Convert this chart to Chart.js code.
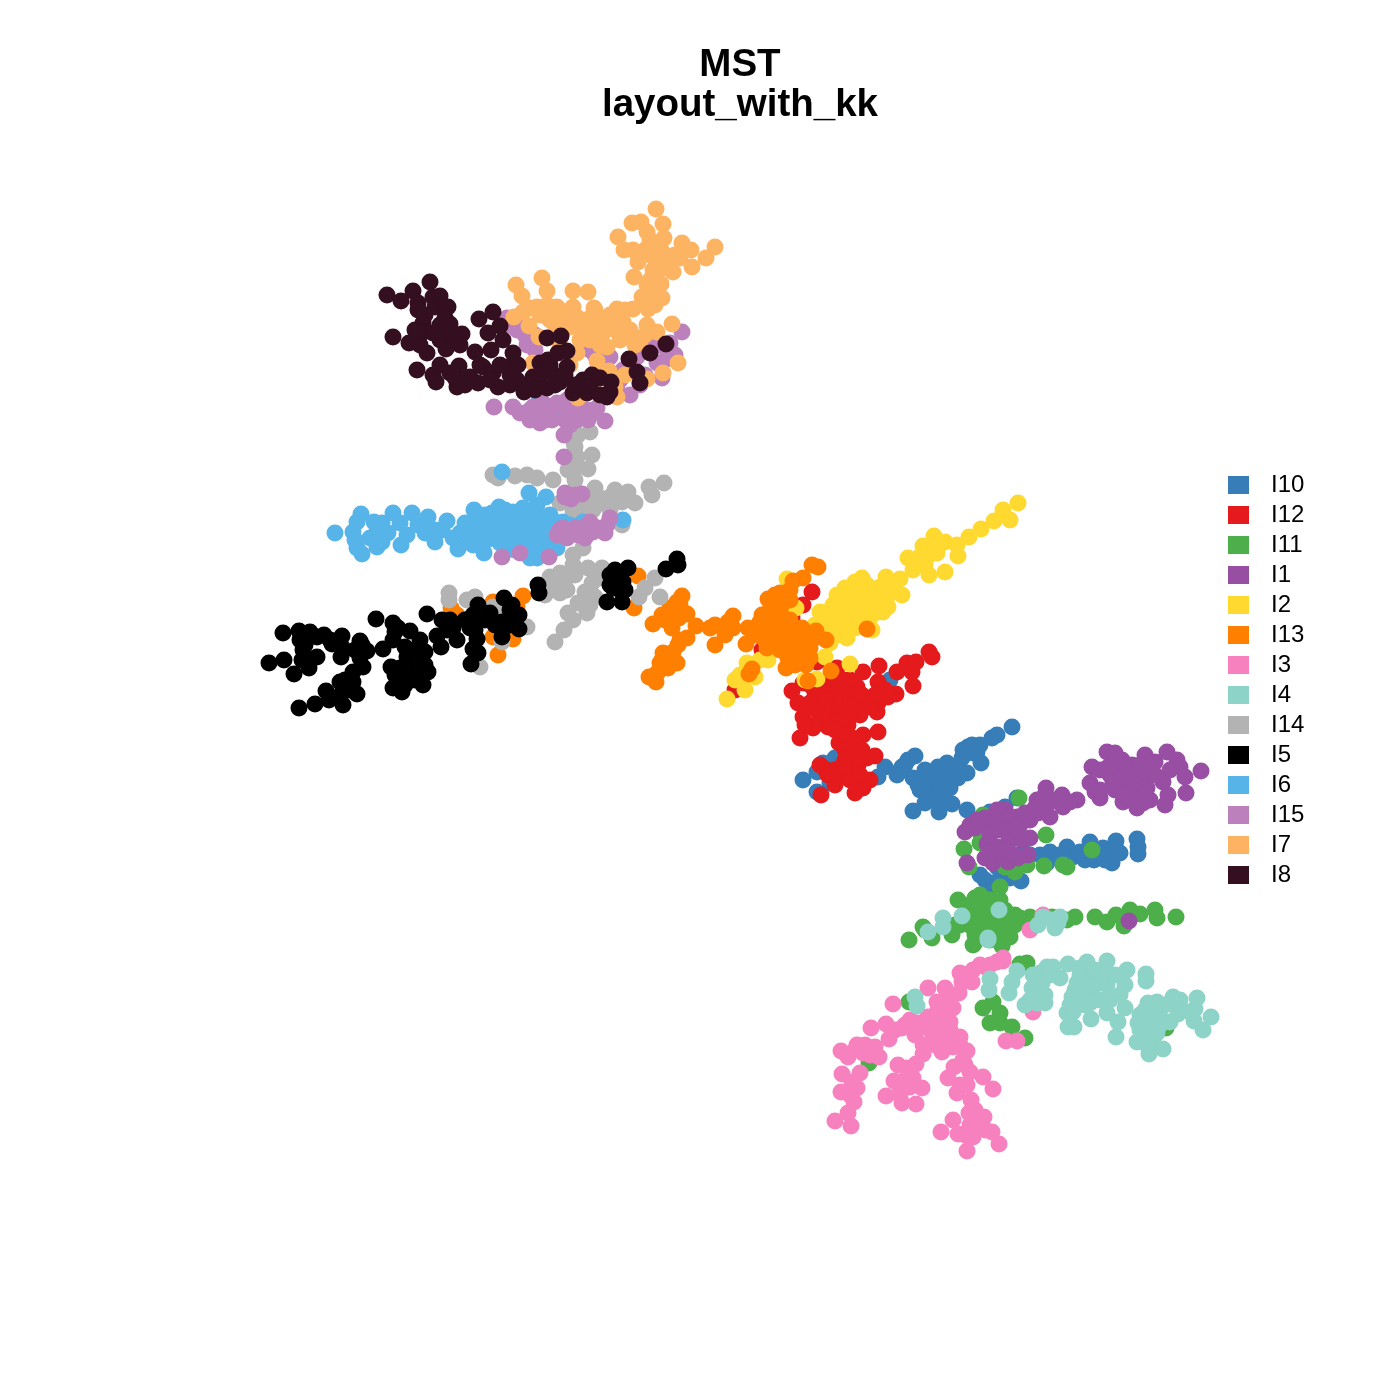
<!DOCTYPE html>
<html>
<head>
<meta charset="utf-8">
<title>MST layout_with_kk</title>
<script src="https://cdn.jsdelivr.net/npm/chart.js@4/dist/chart.umd.min.js"></script>
<style>
body { margin: 0; background: #fff; }
canvas { display: block; }
</style>
</head>
<body>
<canvas id="mst" width="1400" height="1400"></canvas>
<script>
// values, x runs right and y runs down
var I10 = [[1012,727],[997,735],[992,738],[980,745],[968,747],[963,750],[973,753],[962,758],[981,763],[947,763],[938,767],[967,773],[958,778],[930,778],[945,780],[913,778],[920,790],[933,790],[950,788],[940,798],[925,803],[952,804],[913,811],[939,812],[967,810],[915,756],[908,760],[902,767],[897,775],[803,780],[835,758],[823,763],[817,772],[817,792],[830,783],[885,767],[878,777],[897,773],[890,680],[1017,798],[1005,807],[990,812],[980,875],[993,883],[1005,877],[1021,881],[992,887],[997,867],[1040,855],[1053,855],[1067,847],[1073,857],[1047,863],[1090,842],[1094,860],[1103,848],[1112,863],[1116,841],[1120,853],[1137,839],[1138,847],[1138,854],[1080,852],[1023,852],[925,770],[935,775],[945,772],[955,768],[925,785],[935,785],[945,790],[930,795],[940,790],[920,780],[918,785],[935,800],[905,765],[955,770],[972,745],[977,752],[1050,852],[1060,855],[1085,860],[1100,855],[1105,860],[1110,852],[1030,855],[1010,855],[1000,870],[1010,878],[985,880]];
var I12 = [[812,592],[803,605],[792,618],[795,637],[762,650],[735,690],[817,662],[837,668],[863,672],[879,666],[878,682],[897,672],[907,663],[916,662],[929,652],[932,657],[912,672],[913,686],[896,694],[888,697],[878,703],[877,712],[803,683],[792,691],[798,703],[803,717],[815,693],[828,682],[843,680],[857,687],[847,697],[830,707],[817,710],[840,703],[860,707],[870,707],[847,720],[860,715],[828,727],[813,728],[800,738],[848,725],[863,735],[878,732],[852,738],[839,743],[852,752],[875,756],[867,758],[858,765],[820,765],[825,769],[845,773],[837,778],[835,785],[850,780],[870,780],[863,788],[855,793],[821,795],[810,685],[820,690],[830,692],[838,690],[850,680],[845,690],[855,695],[835,700],[825,700],[810,703],[805,710],[820,718],[830,718],[840,712],[850,712],[838,722],[855,705],[865,700],[875,695],[885,690],[862,695],[815,725],[805,725],[835,730],[855,745],[845,750],[848,735],[862,750],[845,760],[835,770],[843,765],[860,775],[828,775]];
var I11 = [[909,940],[923,927],[932,938],[952,935],[958,900],[975,898],[1000,887],[985,907],[975,913],[990,917],[972,927],[983,923],[1000,920],[1015,915],[1010,937],[998,930],[974,944],[1002,946],[1030,917],[1052,917],[1067,920],[1075,917],[1095,917],[1107,922],[1116,915],[1130,910],[1140,914],[1124,926],[1155,910],[1157,918],[1176,917],[963,923],[1019,798],[1046,835],[964,849],[983,815],[980,843],[969,867],[1092,850],[1044,866],[1063,865],[1067,867],[1015,872],[1027,865],[1005,867],[980,833],[983,1008],[993,1002],[1000,1013],[990,1023],[1000,1023],[1012,1027],[1025,1038],[1020,964],[1027,963],[909,1002],[869,1063],[1166,1028],[973,945],[1002,945],[980,895],[990,900],[995,907],[970,905],[985,915],[965,915],[995,925],[985,930],[1005,930],[1000,900],[1005,910],[990,940],[975,935],[960,925],[955,925],[1015,925],[1020,918],[925,930],[945,925],[1035,920]];
var I1 = [[1129,921],[967,863],[965,832],[970,825],[977,820],[997,810],[1005,810],[990,825],[1003,823],[1017,817],[1030,820],[1010,833],[1030,838],[1022,840],[1008,843],[987,844],[997,847],[985,858],[993,863],[1008,862],[1018,858],[1028,855],[1002,857],[1037,800],[1046,788],[1050,802],[1062,795],[1063,807],[1077,800],[1050,817],[1038,813],[1107,752],[1115,753],[1122,760],[1092,767],[1107,768],[1132,765],[1145,755],[1155,762],[1167,752],[1177,760],[1180,767],[1185,777],[1201,771],[1186,793],[1090,783],[1095,792],[1100,798],[1113,782],[1123,802],[1123,787],[1138,778],[1138,793],[1147,788],[1137,808],[1150,800],[1163,782],[1168,795],[1165,805],[1148,773],[1133,772],[985,818],[995,818],[1010,818],[1020,825],[1000,830],[1015,828],[990,835],[975,828],[1025,813],[1035,808],[1045,795],[1045,807],[1055,800],[1070,802],[990,852],[1005,850],[1015,855],[1110,775],[1120,770],[1125,778],[1115,790],[1130,790],[1125,795],[1135,785],[1145,795],[1130,800],[1143,803],[1100,770],[1155,775],[1170,770],[1140,765],[1100,790],[1118,760]];
var I2 = [[1018,503],[1003,510],[1010,520],[994,521],[981,529],[969,537],[958,556],[957,545],[945,542],[934,536],[923,546],[937,553],[908,558],[927,557],[913,570],[929,575],[945,572],[900,579],[886,577],[902,595],[855,582],[867,585],[880,587],[837,595],[853,595],[870,597],[887,597],[833,605],[850,607],[867,607],[888,607],[883,612],[820,612],[837,617],[853,618],[870,618],[815,625],[830,630],[847,630],[847,638],[872,630],[830,643],[825,657],[850,664],[796,608],[787,579],[817,679],[805,680],[747,663],[755,677],[768,660],[760,660],[735,680],[745,690],[727,699],[845,588],[860,590],[875,592],[843,603],[858,603],[875,605],[828,612],[843,612],[860,612],[878,612],[825,620],[840,625],[855,628],[865,625],[838,635],[822,637],[890,590],[862,578],[752,665],[770,650],[775,645],[740,675],[935,545],[925,565],[918,558]];
var I13 = [[523,596],[451,608],[457,615],[493,602],[517,607],[493,637],[513,639],[498,655],[638,576],[634,608],[507,620],[682,596],[677,602],[670,608],[662,615],[653,624],[687,614],[679,618],[672,628],[696,626],[710,628],[715,625],[715,645],[725,635],[733,616],[728,622],[733,628],[687,638],[678,645],[663,653],[670,655],[660,663],[677,663],[668,668],[649,677],[656,682],[653,677],[812,565],[818,567],[803,578],[793,581],[790,590],[780,593],[768,599],[783,603],[773,607],[762,615],[773,617],[787,627],[748,628],[763,630],[777,633],[746,644],[767,648],[788,640],[802,628],[816,631],[826,640],[803,640],[810,648],[797,653],[788,658],[806,665],[786,668],[831,671],[808,681],[867,629],[752,669],[749,674],[655,675],[662,660],[668,660],[673,652],[680,640],[665,665],[658,672],[665,620],[675,612],[680,605],[770,610],[780,610],[790,600],[775,595],[760,622],[770,625],[780,622],[790,620],[795,632],[785,635],[775,640],[765,640],[755,635],[800,650],[795,645],[790,648],[810,658],[800,660],[780,650],[795,665],[812,640]];
var I3 = [[1003,961],[997,962],[987,968],[973,970],[960,973],[962,982],[972,982],[959,993],[945,988],[928,988],[937,1002],[953,1008],[893,1004],[910,1020],[928,1017],[918,1023],[902,1028],[886,1024],[871,1028],[889,1039],[940,1020],[950,1022],[940,1035],[960,1037],[933,1040],[923,1045],[942,1052],[953,1047],[967,1051],[923,1054],[916,1064],[898,1065],[907,1068],[963,1060],[954,1067],[948,1078],[970,1072],[983,1077],[967,1085],[993,1089],[957,1093],[971,1100],[969,1113],[984,1117],[953,1120],[973,1125],[941,1132],[958,1134],[973,1137],[992,1132],[999,1144],[967,1151],[913,1078],[894,1081],[900,1087],[922,1088],[886,1096],[902,1103],[916,1104],[910,1087],[857,1045],[865,1045],[875,1047],[863,1053],[879,1057],[841,1051],[848,1057],[842,1074],[860,1073],[852,1082],[857,1088],[841,1092],[854,1102],[848,1113],[835,1121],[851,1126],[1006,1041],[1017,1041],[1033,1012],[1043,915],[1030,930],[1003,958],[950,1000],[965,975],[980,965],[990,965],[945,1010],[935,1015],[945,1025],[930,1030],[950,1030],[945,1042],[935,1045],[955,1040],[925,1025],[895,1030],[960,1045],[915,1035],[905,1025],[938,1010],[965,1065],[975,1110],[970,1125],[965,1135],[905,1080],[900,1095],[855,1050],[870,1055],[850,1095],[960,1085],[985,1130]];
var I4 = [[990,979],[989,990],[1017,971],[1012,982],[1009,993],[1047,967],[1053,967],[1068,964],[1087,962],[1107,961],[1127,970],[1146,974],[1146,981],[1040,973],[1060,978],[1032,988],[1040,992],[1025,1005],[1037,1003],[1045,1003],[1080,968],[1077,983],[1087,978],[1105,973],[1107,985],[1125,985],[1072,997],[1092,995],[1110,1000],[1090,1003],[1067,1013],[1073,1012],[1091,1019],[1107,1013],[1125,1008],[1118,1022],[1068,1027],[1074,1027],[1116,1037],[1148,1003],[1157,1002],[1173,997],[1180,1000],[1197,998],[1195,1009],[1178,1014],[1211,1017],[1194,1021],[1203,1030],[1170,1022],[1140,1015],[1138,1023],[1153,1018],[1145,1030],[1157,1033],[1137,1042],[1153,1042],[1163,1049],[1149,1054],[1153,1010],[915,997],[917,1006],[988,940],[928,932],[943,918],[943,927],[962,916],[999,910],[988,938],[1060,917],[1058,923],[1055,928],[1043,917],[1038,925],[1042,983],[1050,975],[1035,985],[1045,995],[1030,1000],[1080,975],[1095,970],[1100,980],[1115,975],[1095,985],[1082,990],[1075,990],[1070,1005],[1100,1000],[1085,1005],[1145,1010],[1150,1022],[1140,1030],[1160,1010],[1165,1005],[1150,1035],[1147,1045],[1160,1025],[1190,1012],[1175,1005],[1033,975],[1120,995],[1052,920]];
var I14 = [[590,432],[578,435],[574,443],[575,447],[592,455],[577,457],[588,469],[573,472],[493,475],[498,478],[515,476],[527,475],[537,478],[553,480],[575,480],[595,488],[610,497],[628,492],[635,503],[652,495],[649,487],[664,483],[622,502],[607,505],[593,510],[573,512],[560,503],[622,525],[583,548],[573,555],[573,565],[588,568],[602,568],[550,577],[560,573],[567,590],[550,590],[560,593],[592,583],[585,592],[595,597],[578,603],[587,613],[568,613],[564,630],[555,642],[655,578],[645,588],[639,597],[660,597],[449,593],[449,600],[467,600],[475,597],[480,667],[527,627],[502,642],[493,607],[505,613],[575,490],[600,498],[615,490],[625,498],[585,500],[595,505],[610,510],[575,505],[580,515],[568,470],[575,460],[570,435],[575,575],[565,580],[555,585],[573,620],[590,605],[600,578],[545,595]];
var I5 = [[269,663],[284,660],[294,674],[283,633],[299,631],[300,640],[303,650],[302,660],[309,668],[317,657],[317,637],[324,635],[332,644],[342,636],[341,657],[342,647],[360,641],[367,651],[360,658],[363,667],[353,672],[340,682],[353,682],[326,691],[329,700],[342,693],[357,694],[343,705],[315,704],[299,708],[376,619],[393,623],[398,628],[393,640],[383,649],[405,647],[407,657],[410,631],[420,640],[425,652],[420,665],[428,672],[391,667],[400,668],[408,678],[393,688],[402,692],[423,685],[427,614],[442,620],[453,628],[437,636],[457,640],[441,647],[478,605],[490,613],[473,615],[470,628],[477,639],[473,649],[478,653],[471,664],[504,598],[512,605],[519,615],[502,622],[519,629],[502,637],[538,585],[539,593],[628,568],[610,575],[623,582],[613,588],[607,602],[622,602],[677,559],[678,565],[666,569],[620,590],[310,632],[305,645],[355,650],[362,645],[330,640],[350,690],[345,680],[395,632],[415,650],[395,675],[415,680],[425,665],[405,685],[415,670],[447,630],[450,620],[465,620],[485,620],[495,625],[510,610],[510,625],[610,585],[620,575],[615,570],[625,590],[475,630]];
var I6 = [[502,472],[529,493],[546,497],[335,533],[361,514],[357,522],[353,532],[355,540],[357,548],[362,554],[374,522],[382,523],[377,532],[370,538],[382,542],[377,547],[388,533],[393,513],[400,523],[412,513],[407,535],[401,545],[428,517],[447,521],[425,533],[435,542],[442,530],[453,538],[465,523],[474,510],[458,549],[473,545],[484,553],[492,513],[499,507],[483,523],[477,535],[493,530],[503,520],[513,512],[523,508],[537,505],[550,515],[520,527],[533,523],[543,533],[500,543],[513,540],[527,543],[540,547],[530,558],[537,558],[557,548],[563,522],[583,522],[623,520],[487,540],[510,522],[543,520],[507,550],[523,552],[539,401],[552,414],[465,530],[475,522],[470,540],[485,515],[495,522],[505,510],[515,520],[525,515],[535,515],[545,525],[555,530],[490,535],[500,530],[510,535],[520,535],[530,535],[540,540],[550,540],[505,545],[515,550],[525,550],[535,550],[545,552],[555,522],[480,530],[460,533],[488,525],[570,525],[578,530],[435,530],[418,525]];
var I15 = [[507,318],[517,330],[527,345],[590,350],[610,357],[623,370],[617,390],[640,385],[662,378],[682,332],[670,343],[675,355],[653,342],[657,363],[637,357],[597,370],[494,407],[513,407],[520,413],[533,407],[543,403],[540,423],[552,420],[564,435],[563,407],[577,410],[577,420],[587,410],[597,408],[605,421],[588,420],[557,403],[567,400],[564,457],[565,493],[571,499],[582,494],[557,535],[563,528],[570,533],[575,528],[585,527],[585,538],[593,532],[607,525],[605,533],[502,557],[520,553],[549,557],[535,335],[525,335],[520,320],[510,325],[535,350],[595,355],[605,365],[630,365],[645,375],[660,345],[665,360],[620,380],[630,395],[530,410],[540,410],[550,410],[570,405],[590,415],[545,420],[565,420],[580,415],[530,420],[570,425],[560,530],[578,535],[598,528],[590,522],[567,538],[610,518],[575,495],[565,497]];
var I7 = [[656,209],[632,223],[641,222],[663,224],[647,232],[618,237],[664,238],[624,250],[633,250],[652,245],[682,243],[691,250],[715,247],[706,258],[692,267],[673,272],[638,262],[653,257],[663,253],[675,255],[653,270],[663,268],[634,277],[647,285],[661,284],[642,297],[662,298],[633,309],[648,309],[617,309],[516,285],[542,278],[547,291],[522,296],[573,291],[588,292],[514,317],[529,326],[523,312],[537,307],[547,305],[557,307],[573,307],[594,308],[547,317],[567,318],[578,318],[583,330],[570,327],[607,325],[623,322],[602,335],[607,347],[627,337],[640,342],[647,325],[657,332],[672,324],[539,337],[577,353],[597,361],[609,371],[663,373],[678,363],[533,363],[560,347],[615,387],[617,397],[647,379],[578,398],[650,240],[660,245],[645,250],[670,258],[680,258],[660,262],[650,280],[655,290],[645,300],[655,305],[625,310],[560,310],[565,320],[540,315],[530,308],[600,320],[590,330],[615,330],[630,330],[610,315],[590,318],[645,335],[620,340],[555,325],[580,340],[600,345],[590,340],[570,365],[600,395],[605,395],[625,375],[550,320],[595,310],[635,345]];
var I8 = [[387,295],[401,301],[413,291],[430,282],[418,303],[418,310],[433,297],[440,296],[435,307],[448,307],[423,323],[445,318],[450,324],[415,330],[422,333],[393,337],[409,343],[427,353],[433,333],[447,333],[462,334],[446,349],[460,345],[417,370],[440,365],[433,375],[436,382],[450,373],[457,387],[459,366],[475,352],[491,350],[470,377],[478,383],[483,367],[498,387],[493,373],[513,353],[507,367],[518,365],[517,380],[524,392],[533,377],[540,363],[548,360],[558,353],[567,351],[547,388],[560,382],[552,373],[567,367],[573,393],[587,393],[583,380],[592,375],[590,387],[611,382],[610,392],[607,397],[547,338],[561,336],[479,319],[493,312],[500,326],[488,333],[503,340],[629,359],[650,353],[666,344],[637,372],[640,383],[425,315],[440,325],[440,340],[455,340],[420,345],[480,365],[500,365],[510,375],[455,378],[465,385],[490,380],[530,385],[540,375],[555,385],[575,385],[600,378],[600,395],[550,365],[565,375],[510,385],[535,390]];

var names = ['I10', 'I12', 'I11', 'I1', 'I2', 'I13', 'I3', 'I4', 'I14', 'I5', 'I6', 'I15', 'I7', 'I8'];
var series = [I10, I12, I11, I1, I2, I13, I3, I4, I14, I5, I6, I15, I7, I8];
var colors = ['#377EB8', '#E41A1C', '#4DAF4A', '#984EA3', '#FFD92F', '#FF7F00', '#F781BF', '#8DD3C7', '#B3B3B3', '#000000', '#56B4E9', '#BC80BD', '#FDB462', '#330F1F'];

var datasets = [];
for (var i = 0; i < names.length; i++) {
    datasets.push({
        label: names[i],
        data: series[i],
        backgroundColor: colors[i],
        borderWidth: 0,
        pointRadius: 8.5,
        order: names.length - i   // later groups paint over earlier ones
    });
}

// the legend sits to the right of the plot, outside the centred title block
var placeLegend = {
    id: 'placeLegend',
    afterLayout: function (chart) {
        chart.legend.left = 1222;
        chart.legend.right = 1400;
        chart.legend.top = 467;
        chart.legend.bottom = 1400;
    }
};

var chart = new Chart(document.getElementById('mst'), {
    type: 'scatter',
    data: { datasets: datasets },
    plugins: [placeLegend],
    options: {
        responsive: false,
        animation: false,
        layout: { autoPadding: false, padding: { left: 80 } },
        scales: {
            x: { display: false, min: 80, max: 1400 },
            y: { display: false, min: 140, max: 1400, reverse: true }
        },
        plugins: {
            title: {
                display: true,
                text: ['MST', 'layout_with_kk'],
                fullSize: false,
                color: '#000',
                font: { family: '"Liberation Sans", Arial, sans-serif', size: 38.5, weight: 'bold', lineHeight: 1.04 },
                padding: { top: 45, bottom: 15 }
            },
            legend: {
                position: 'chartArea',
                align: 'start',
                labels: {
                    boxWidth: 21,
                    boxHeight: 18,
                    padding: 6,
                    color: '#000',
                    font: { family: '"Liberation Sans", Arial, sans-serif', size: 24 },
                    generateLabels: function (c) {
                        return c.data.datasets.map(function (d, k) {
                            return { text: '\u2004\u200a' + d.label, fillStyle: d.backgroundColor, lineWidth: 0, strokeStyle: 'transparent', datasetIndex: k };
                        });
                    }
                }
            },
            tooltip: { enabled: false }
        }
    }
});
</script>
</body>
</html>
